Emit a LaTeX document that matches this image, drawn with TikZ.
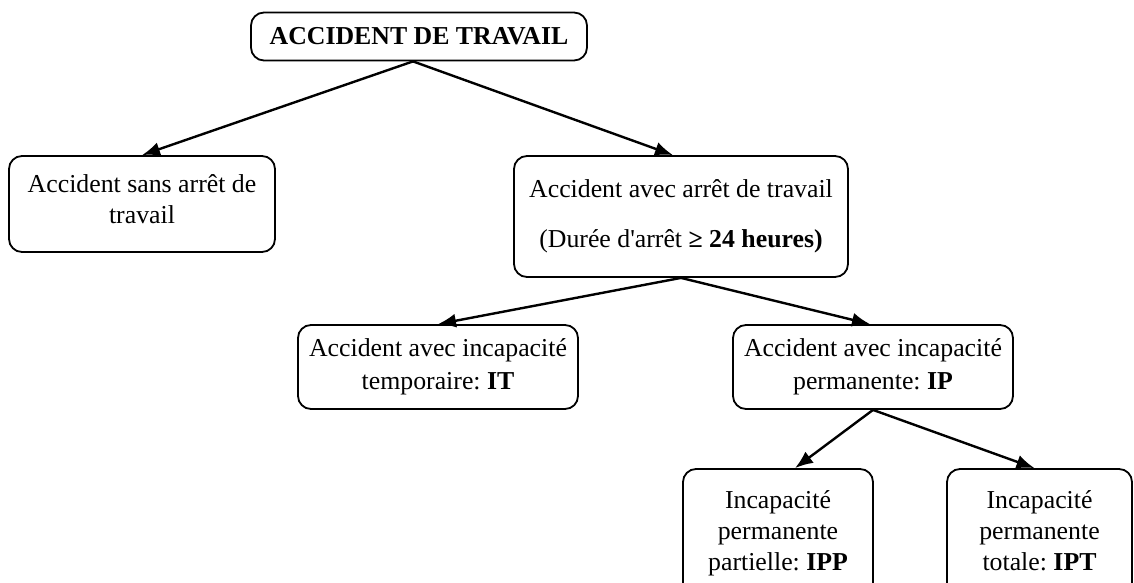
\documentclass[tikz,border=0pt]{standalone}
\usepackage{fontspec}
\newfontfamily\boxfont{Liberation Serif}
\usetikzlibrary{arrows.meta}
\begin{document}
\begin{tikzpicture}[x=0.5pt,y=-0.5pt,
  box/.style={draw, line width=0.9pt, rounded corners=6.5pt, align=center,
    inner sep=2pt, font={\boxfont\fontsize{12.9}{15.5}\selectfont\frenchspacing}},
  widebox/.style={box, font={\boxfont\fontsize{12.9}{16.5}\selectfont\frenchspacing}},
  link/.style={line width=1.2pt, -{Latex[length=9pt,width=7pt]}}]
\useasboundingbox (0,0) rectangle (1134,583);
\clip (0,0) rectangle (1134,583);
% boxes
\node[box, minimum width=168pt, minimum height=24pt] (top) at (419,36.5)
  {\textbf{ACCIDENT DE TRAVAIL}};
\node[box, minimum width=133pt, minimum height=48pt, text depth=5pt] (sans) at (142,204)
  {Accident sans arrêt de\\travail};
\node[box, minimum width=167pt, minimum height=60.5pt] (avec) at (681,216.5)
  {Accident avec arrêt de travail\\[9.5pt](Durée d'arrêt \textbf{≥ 24 heures)}};
\node[widebox, minimum width=140pt, minimum height=42pt] (it) at (438,367)
  {Accident avec incapacité\\temporaire: \textbf{IT}};
\node[widebox, minimum width=140pt, minimum height=42pt] (ip) at (873,367)
  {Accident avec incapacité\\permanente: \textbf{IP}};
\node[box, minimum width=95pt, minimum height=64.5pt, text depth=2.8pt] (ipp) at (778,533.5)
  {Incapacité\\permanente\\partielle: \textbf{IPP}};
\node[box, minimum width=92.5pt, minimum height=64.5pt, text depth=2.8pt] (ipt) at (1039.5,533.5)
  {Incapacité\\permanente\\totale: \textbf{IPT}};
% connectors
\draw[link] ([xshift=-3pt]top.south) -- (sans.north);
\draw[link] ([xshift=-3pt]top.south) -- ([xshift=-4pt]avec.north);
\draw[link] (avec.south) -- (it.north);
\draw[link] (avec.south) -- ([xshift=-1.5pt]ip.north);
\draw[link] (ip.south) -- ([xshift=8.5pt]ipp.north);
\draw[link] (ip.south) -- ([xshift=-2.5pt]ipt.north);
\end{tikzpicture}
\end{document}
